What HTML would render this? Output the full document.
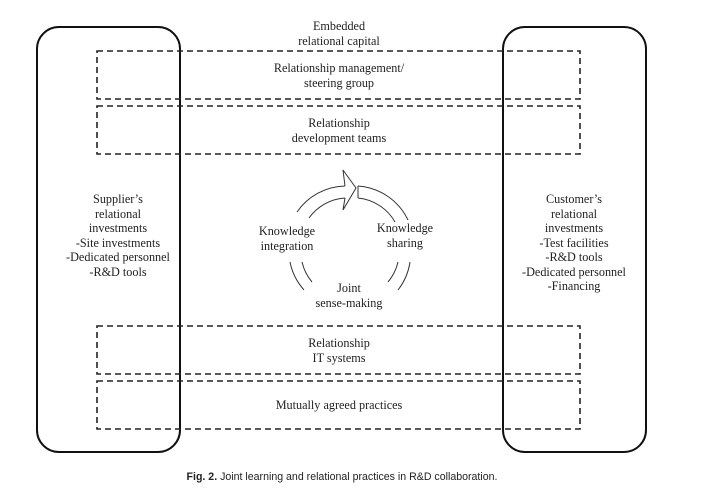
<!DOCTYPE html>
<html><head><style>
body{margin:0;background:#fff;width:701px;height:495px;overflow:hidden;font-family:"Liberation Serif",serif;color:#222}
.t{position:absolute;text-align:center;font-size:12.2px;line-height:14.5px;width:300px;margin-left:-150px}
</style></head><body>
<svg width="701" height="495" style="position:absolute;left:0;top:0">
<g fill="none" stroke="#111" stroke-width="2">
<rect x="37" y="27" width="143" height="425" rx="22"/>
<rect x="503" y="27" width="143" height="425" rx="22"/>
</g>
<g fill="none" stroke="#222" stroke-width="1.6" stroke-dasharray="6,4">
<rect x="97" y="51" width="483" height="48"/>
<rect x="97" y="106" width="483" height="48"/>
<rect x="97" y="326" width="483" height="48"/>
<rect x="97" y="381" width="483" height="48"/>
</g>
<g fill="none" stroke="#333" stroke-width="1">
<path d="M297 212 A60 60 0 0 1 345 186"/>
<path d="M309 218 A48 48 0 0 1 345 198"/>
<path d="M345 186 L343 170 L356 188 L343 210 L345 198"/>
<path d="M358 186 A60 60 0 0 1 408 220 M358 198 A48 48 0 0 1 395 222 M358 186 L358 198"/>
<path d="M410 262 A60 60 0 0 1 398 290 M398 262 A48 48 0 0 1 388 282"/>
<path d="M290 262 A60 60 0 0 0 304 290 M302 262 A48 48 0 0 0 312 282"/>
</g>
</svg>
<div class="t" style="left:339px;top:19px">Embedded<br>relational capital</div>
<div class="t" style="left:339px;top:61px">Relationship management/<br>steering group</div>
<div class="t" style="left:339px;top:116px">Relationship<br>development teams</div>
<div class="t" style="left:339px;top:336px">Relationship<br>IT systems</div>
<div class="t" style="left:339px;top:398px">Mutually agreed practices</div>
<div class="t" style="left:287px;top:224px">Knowledge<br>integration</div>
<div class="t" style="left:405px;top:221px">Knowledge<br>sharing</div>
<div class="t" style="left:349px;top:281px">Joint<br>sense-making</div>
<div class="t" style="left:118px;top:192px">Supplier’s<br>relational<br>investments<br>-Site investments<br>-Dedicated personnel<br>-R&amp;D tools</div>
<div class="t" style="left:574px;top:192px">Customer’s<br>relational<br>investments<br>-Test facilities<br>-R&amp;D tools<br>-Dedicated personnel<br>-Financing</div>
<div class="t" style="left:342px;top:470px;width:400px;margin-left:-200px;font-family:'Liberation Sans',sans-serif;font-size:10.6px"><b>Fig. 2.</b> Joint learning and relational practices in R&amp;D collaboration.</div>
</body></html>
